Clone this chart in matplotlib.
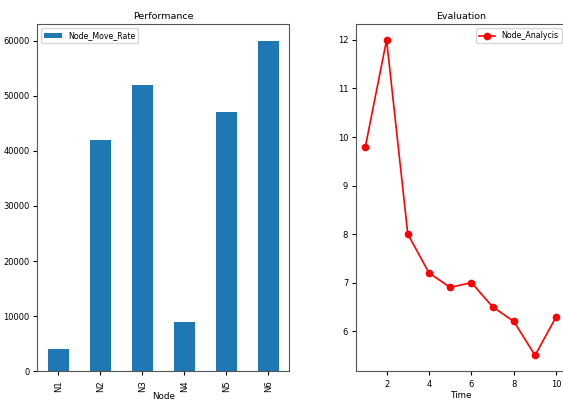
import pandas as pd
import matplotlib
matplotlib.use("Agg")
import matplotlib.pyplot as plt

nodes = ["N1", "N2", "N3", "N4", "N5", "N6"]
move_rate = [4000, 42000, 52000, 9000, 47000, 60000]

times = [1, 2, 3, 4, 5, 6, 7, 8, 9, 10]
analysis = [9.8, 12.0, 8.0, 7.2, 6.9, 7.0, 6.5, 6.2, 5.5, 6.3]

plt.rcParams["font.size"] = 6.3
plt.rcParams["xtick.labelsize"] = 6
plt.rcParams["ytick.labelsize"] = 6
plt.rcParams["xtick.major.size"] = 3
plt.rcParams["ytick.major.size"] = 3
plt.rcParams["ytick.major.pad"] = 2.5

fig = plt.figure(figsize=(5.63, 4.03), dpi=100)
ax1 = fig.add_axes([0.066, 0.079, 0.448, 0.861])
ax2 = fig.add_axes([0.632, 0.079, 0.373, 0.861])

df = pd.DataFrame({"Node_Move_Rate": move_rate}, index=pd.Index(nodes, name="Node"))
df.plot(kind="bar", ax=ax1, color="#1f77b4")
ax1.set_title("Performance", fontsize=6.8, pad=4)
ax1.set_xlabel("Node", labelpad=0)
ax1.legend(loc="upper left", fontsize=5.7, handlelength=2.2)

ax2.plot(times, analysis, color="red", marker="o", markersize=4.5,
         linewidth=1.2, label="Node_Analycis")
ax2.set_title("Evaluation", fontsize=6.8, pad=4)
ax2.set_xlabel("Time", labelpad=1)
ax2.legend(loc="upper right", fontsize=5.7)

for ax in (ax1, ax2):
    for sp in ax.spines.values():
        sp.set_color("#555555")

fig.savefig("out.png", dpi=100)
